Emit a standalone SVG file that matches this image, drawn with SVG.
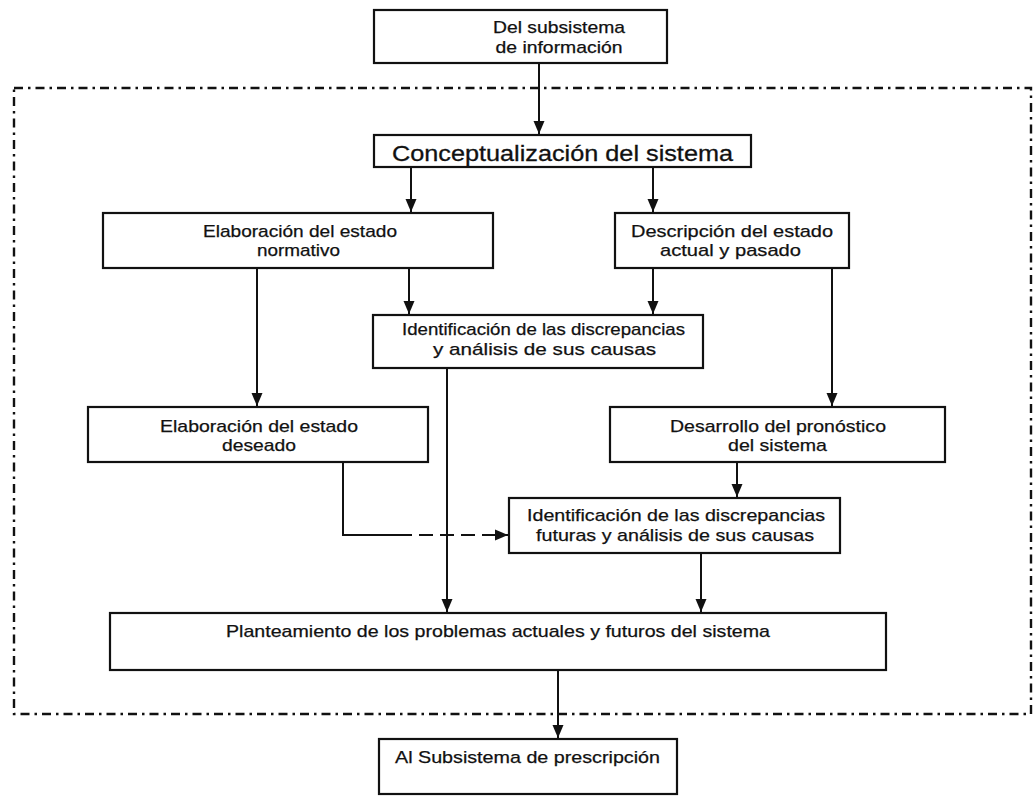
<svg xmlns="http://www.w3.org/2000/svg" width="1035" height="796" viewBox="0 0 1035 796">
  <style>
    .box { fill: #ffffff; stroke: #111111; stroke-width: 2.2; }
    .lbl { font-family: "Liberation Sans", Arial, sans-serif; font-size: 17px; fill: #111111; stroke: #111111; stroke-width: 0.25; text-anchor: middle; }
    .big { font-size: 22px; stroke-width: 0.3; }
    .edge { fill: none; stroke: #111111; stroke-width: 2; }
    .dash { stroke-dasharray: 14 7; }
    .frame { fill: none; stroke: #111111; stroke-width: 2.4; stroke-dasharray: 9 5 2.5 5; }
  </style>
  <defs>
    <marker id="arrow" viewBox="0 0 13 12" refX="13" refY="6" markerWidth="13" markerHeight="12" markerUnits="userSpaceOnUse" orient="auto">
      <path d="M0,0.5 L13,6 L0,11.5 Z" fill="#111111"/>
    </marker>
  </defs>
  <rect width="1035" height="796" fill="#ffffff"/>

  <!-- system boundary -->
  <rect class="frame" x="14" y="88" width="1017" height="626"/>

  <g id="connectors">
    <path class="edge" d="M539,63 V134" marker-end="url(#arrow)"/>
    <path class="edge" d="M411,167 V212" marker-end="url(#arrow)"/>
    <path class="edge" d="M653,167 V212" marker-end="url(#arrow)"/>
    <path class="edge" d="M409,268 V314" marker-end="url(#arrow)"/>
    <path class="edge" d="M653,268 V314" marker-end="url(#arrow)"/>
    <path class="edge" d="M257,268 V406" marker-end="url(#arrow)"/>
    <path class="edge" d="M832,268 V406" marker-end="url(#arrow)"/>
    <path class="edge" d="M737,462 V497" marker-end="url(#arrow)"/>
    <path class="edge" d="M343,462 V535 H398"/>
    <path class="edge dash" d="M398,535 H508" marker-end="url(#arrow)"/>
    <path class="edge" d="M447,368 V612" marker-end="url(#arrow)"/>
    <path class="edge" d="M701,553 V612" marker-end="url(#arrow)"/>
    <path class="edge" d="M558,670 V738" marker-end="url(#arrow)"/>
  </g>

  <g id="n-informacion">
    <rect class="box" x="374" y="10" width="293" height="53"/>
    <text class="lbl" x="559" y="33" textLength="132" lengthAdjust="spacingAndGlyphs">Del subsistema</text>
    <text class="lbl" x="559" y="53" textLength="127" lengthAdjust="spacingAndGlyphs">de información</text>
  </g>

  <g id="n-conceptualizacion">
    <rect class="box" x="374" y="135" width="377" height="32"/>
    <text class="lbl big" x="562.5" y="161" textLength="341" lengthAdjust="spacingAndGlyphs">Conceptualización del sistema</text>
  </g>

  <g id="n-normativo">
    <rect class="box" x="103" y="213" width="390" height="55"/>
    <text class="lbl" x="300" y="237" textLength="194" lengthAdjust="spacingAndGlyphs">Elaboración del estado</text>
    <text class="lbl" x="298.5" y="256" textLength="83" lengthAdjust="spacingAndGlyphs">normativo</text>
  </g>

  <g id="n-descripcion">
    <rect class="box" x="615" y="213" width="234" height="55"/>
    <text class="lbl" x="732" y="237" textLength="202" lengthAdjust="spacingAndGlyphs">Descripción del estado</text>
    <text class="lbl" x="730.5" y="256" textLength="141" lengthAdjust="spacingAndGlyphs">actual y pasado</text>
  </g>

  <g id="n-discrepancias">
    <rect class="box" x="373" y="315" width="330" height="53"/>
    <text class="lbl" x="543.5" y="335" textLength="283" lengthAdjust="spacingAndGlyphs">Identificación de las discrepancias</text>
    <text class="lbl" x="544.5" y="355" textLength="223" lengthAdjust="spacingAndGlyphs">y análisis de sus causas</text>
  </g>

  <g id="n-deseado">
    <rect class="box" x="88" y="407" width="340" height="55"/>
    <text class="lbl" x="259" y="432" textLength="198" lengthAdjust="spacingAndGlyphs">Elaboración del estado</text>
    <text class="lbl" x="259" y="451" textLength="74" lengthAdjust="spacingAndGlyphs">deseado</text>
  </g>

  <g id="n-pronostico">
    <rect class="box" x="610" y="407" width="335" height="55"/>
    <text class="lbl" x="778" y="432" textLength="216" lengthAdjust="spacingAndGlyphs">Desarrollo del pronóstico</text>
    <text class="lbl" x="777.5" y="451" textLength="99" lengthAdjust="spacingAndGlyphs">del sistema</text>
  </g>

  <g id="n-futuras">
    <rect class="box" x="509" y="498" width="331" height="55"/>
    <text class="lbl" x="676" y="521" textLength="298" lengthAdjust="spacingAndGlyphs">Identificación de las discrepancias</text>
    <text class="lbl" x="675" y="541" textLength="278" lengthAdjust="spacingAndGlyphs">futuras y análisis de sus causas</text>
  </g>

  <g id="n-planteamiento">
    <rect class="box" x="110" y="613" width="776" height="57"/>
    <text class="lbl" x="498" y="637" textLength="544" lengthAdjust="spacingAndGlyphs">Planteamiento de los problemas actuales y futuros del sistema</text>
  </g>

  <g id="n-prescripcion">
    <rect class="box" x="379" y="739" width="298" height="55"/>
    <text class="lbl" x="527.5" y="763" textLength="265" lengthAdjust="spacingAndGlyphs">Al Subsistema de prescripción</text>
  </g>
</svg>
